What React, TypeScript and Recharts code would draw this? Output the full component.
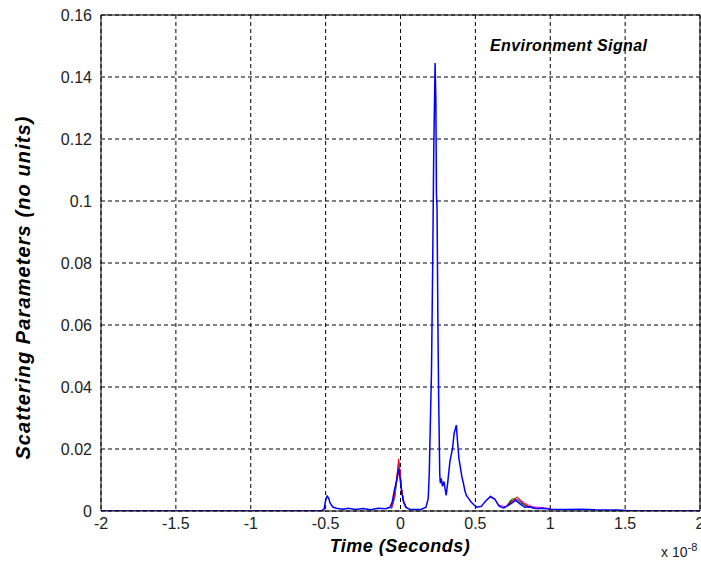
import { CartesianGrid, Line, LineChart, ReferenceLine, XAxis, YAxis } from "recharts";

// time in units of 1e-8 s, value = scattering parameter
const xTicks = [-2, -1.5, -1, -0.5, 0, 0.5, 1, 1.5, 2];
const yTicks = [0, 0.02, 0.04, 0.06, 0.08, 0.1, 0.12, 0.14, 0.16];

const blueSignal: [number, number][] = [
  [-2, 0], [-0.53, 0], [-0.51, 0.0006], [-0.5, 0.0035], [-0.49, 0.0048], [-0.48, 0.0042],
  [-0.47, 0.0025], [-0.45, 0.0012], [-0.42, 0.0008], [-0.38, 0.0006], [-0.35, 0.0009],
  [-0.3, 0.0005], [-0.25, 0.0008], [-0.2, 0.0004], [-0.15, 0.0009], [-0.1, 0.0007],
  [-0.07, 0.0012], [-0.055, 0.003], [-0.04, 0.007], [-0.025, 0.01], [-0.012, 0.0135],
  [-0.003, 0.0105], [0.008, 0.006], [0.02, 0.003], [0.035, 0.0012], [0.06, 0.0006],
  [0.1, 0.0005], [0.14, 0.0006], [0.17, 0.0012], [0.185, 0.004], [0.192, 0.012],
  [0.2, 0.03], [0.207, 0.045], [0.215, 0.08], [0.222, 0.116], [0.231, 0.1445],
  [0.236, 0.133], [0.24, 0.102], [0.244, 0.098], [0.25, 0.059], [0.255, 0.036],
  [0.262, 0.012], [0.266, 0.009], [0.272, 0.0105], [0.28, 0.008], [0.29, 0.0095],
  [0.305, 0.005], [0.315, 0.009], [0.33, 0.016], [0.347, 0.02], [0.358, 0.025],
  [0.373, 0.0277], [0.38, 0.023], [0.39, 0.017], [0.4, 0.014], [0.41, 0.011],
  [0.42, 0.009], [0.43, 0.0065], [0.44, 0.005], [0.455, 0.004], [0.47, 0.003],
  [0.49, 0.002], [0.51, 0.0012], [0.54, 0.0015], [0.57, 0.0033], [0.6, 0.0046],
  [0.63, 0.0038], [0.66, 0.0015], [0.69, 0.001], [0.72, 0.0018], [0.75, 0.0028],
  [0.77, 0.0034], [0.8, 0.0022], [0.83, 0.0012], [0.86, 0.0014], [0.9, 0.0008],
  [0.95, 0.0009], [1.0, 0.0006], [1.1, 0.0005], [1.2, 0.0006], [1.3, 0.0004],
  [1.45, 0.0003], [1.55, 0], [2, 0],
];

const redSignal: [number, number | null][] = [
  [-0.06, 0.0009], [-0.04, 0.005], [-0.025, 0.011], [-0.012, 0.0168], [-0.003, 0.013],
  [0.008, 0.007], [0.02, 0.0035], [0.04, 0.001], [0.3, null],
  [0.7, 0.0012], [0.74, 0.003], [0.78, 0.0046], [0.81, 0.0028], [0.85, 0.0016], [0.9, 0.0009],
];
const greenSignal: [number, number | null][] = [
  [-0.06, 0.0008], [-0.04, 0.004], [-0.025, 0.0095], [-0.012, 0.0155], [-0.003, 0.012],
  [0.008, 0.0065], [0.02, 0.003], [0.04, 0.001], [0.3, null],
  [0.7, 0.0012], [0.74, 0.0038], [0.77, 0.0041], [0.8, 0.0026], [0.84, 0.0015], [0.9, 0.0008],
];
const magentaSignal: [number, number | null][] = [
  [-0.06, 0.0008], [-0.04, 0.0045], [-0.025, 0.0105], [-0.012, 0.0158], [-0.003, 0.0125],
  [0.008, 0.0068], [0.02, 0.0032], [0.04, 0.001], [0.3, null],
  [0.58, 0.0035], [0.6, 0.0049], [0.63, 0.004], [0.65, 0.002], [0.7, 0.0014],
  [0.75, 0.0032], [0.79, 0.004], [0.83, 0.0025], [0.88, 0.0014], [1.0, 0.0008],
];
const blackSignal: [number, number | null][] = [
  [-0.06, 0.0008], [-0.04, 0.0042], [-0.025, 0.0098], [-0.012, 0.0148], [-0.003, 0.0118],
  [0.008, 0.0066], [0.02, 0.003], [0.04, 0.001], [0.3, null],
  [0.7, 0.0012], [0.74, 0.0034], [0.78, 0.0038], [0.82, 0.0022], [0.86, 0.0013], [0.92, 0.0007],
];

const toPoints = (pairs: [number, number | null][]) => pairs.map(([t, v]) => ({ t, v }));

const extras = [
  { name: "black", color: "#000000", data: blackSignal },
  { name: "green", color: "#00a000", data: greenSignal },
  { name: "magenta", color: "#ff00ff", data: magentaSignal },
  { name: "red", color: "#ff0000", data: redSignal },
];

const tickStyle = { fontFamily: "Arial, 'Liberation Sans', sans-serif", fontSize: 16, fill: "#222" };
const labelFont = "Arial, 'Liberation Sans', sans-serif";

export default function App() {
  return (
    <div style={{ position: "absolute", left: 0, top: 0, width: 701, height: 561, background: "#fff" }}>
      <LineChart width={701} height={561} margin={{ top: 15, right: 1, left: 0, bottom: 0 }}>
        <CartesianGrid stroke="#000" strokeDasharray="4 3" strokeWidth={1} />
        <XAxis
          dataKey="t"
          type="number"
          domain={[-2, 2]}
          ticks={xTicks}
          allowDataOverflow
          height={50}
          tickLine={false}
          tickMargin={1}
          tick={tickStyle}
          stroke="#000"
          interval={0}
        />
        <YAxis
          type="number"
          domain={[0, 0.16]}
          ticks={yTicks}
          allowDataOverflow
          width={101}
          tickLine={false}
          tickMargin={3}
          tick={tickStyle}
          stroke="#000"
          interval={0}
        />
        <ReferenceLine y={0.16} stroke="#000" strokeWidth={1} />
        <ReferenceLine x={2} stroke="#000" strokeWidth={1} />
        {extras.map((s) => (
          <Line
            key={s.name}
            data={toPoints(s.data)}
            dataKey="v"
            type="linear"
            stroke={s.color}
            strokeWidth={1}
            dot={false}
            isAnimationActive={false}
          />
        ))}
        <Line
          data={toPoints(blueSignal)}
          dataKey="v"
          type="linear"
          stroke="#0000ff"
          strokeWidth={1.5}
          dot={false}
          isAnimationActive={false}
        />
      </LineChart>
      <div
        style={{
          position: "absolute", left: 490, top: 37, fontFamily: labelFont, fontSize: 16,
          letterSpacing: 0.4, fontWeight: "bold", fontStyle: "italic", color: "#000", whiteSpace: "nowrap",
        }}
      >
        Environment Signal
      </div>
      <div
        style={{
          position: "absolute", left: 400, top: 536, transform: "translateX(-50%)",
          fontFamily: labelFont, fontSize: 18, letterSpacing: 0.5, fontWeight: "bold", fontStyle: "italic",
          color: "#000", whiteSpace: "nowrap",
        }}
      >
        Time (Seconds)
      </div>
      <div
        style={{
          position: "absolute", left: 23, top: 287, width: 0, height: 0,
          display: "flex", alignItems: "center", justifyContent: "center",
        }}
      >
        <div
          style={{
            transform: "rotate(-90deg)", fontFamily: labelFont, fontSize: 20, letterSpacing: 1.1,
            fontWeight: "bold", fontStyle: "italic", color: "#000", whiteSpace: "nowrap",
          }}
        >
          Scattering Parameters (no units)
        </div>
      </div>
      <div
        style={{
          position: "absolute", left: 661, top: 541, fontFamily: labelFont, fontSize: 14,
          color: "#222", whiteSpace: "nowrap",
        }}
      >
        x 10<sup style={{ fontSize: 11, verticalAlign: "6px" }}>-8</sup>
      </div>
    </div>
  );
}
